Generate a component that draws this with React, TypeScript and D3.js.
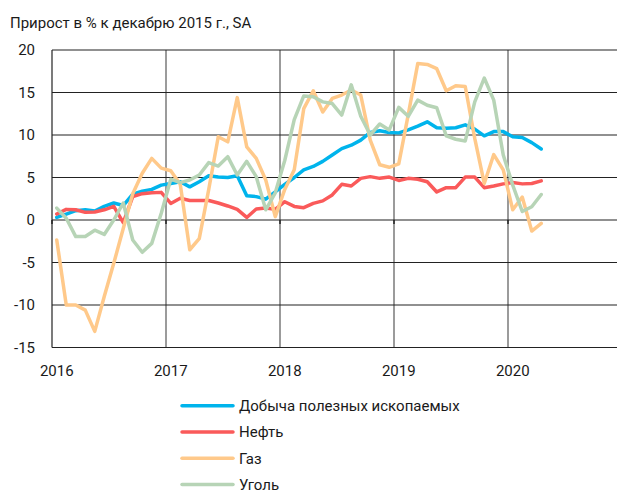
import React from 'react';
import * as d3 from 'd3';

// monthly values, Jan 2016 .. Apr 2020, growth in % vs Dec 2015 (SA)
const mining = [
  0.3, 0.7, 1.1, 1.2, 1.05, 1.6, 2.0, 1.7, 3.05, 3.4, 3.6, 4.1,
  4.3, 4.5, 3.9, 4.5, 5.2, 5.05, 5.0, 5.2, 2.85, 2.75, 2.45, 3.3,
  4.2, 5.0, 5.9, 6.3, 6.9, 7.65, 8.4, 8.8, 9.4, 10.3, 10.5, 10.3,
  10.25, 10.6, 11.05, 11.55, 10.85, 10.8, 10.85, 11.2, 10.7, 9.9, 10.4, 10.4,
  9.8, 9.7, 9.1, 8.35
];
const oil = [
  0.7, 1.25, 1.2, 0.9, 0.95, 1.2, 1.6, -0.3, 2.75, 3.1, 3.2, 3.25,
  1.95, 2.55, 2.3, 2.3, 2.3, 2.0, 1.65, 1.25, 0.3, 1.3, 1.4, 1.25,
  2.15, 1.6, 1.45, 1.95, 2.25, 2.95, 4.2, 4.0, 4.9, 5.1, 4.9, 5.05,
  4.65, 4.9, 4.8, 4.5, 3.3, 3.8, 3.8, 5.05, 5.05, 3.8, 4.0, 4.25,
  4.4, 4.25, 4.3, 4.6
];
const gas = [
  -2.35, -10.0, -10.0, -10.6, -13.1, -9.0, -5.1, -1.0, 3.1, 5.5, 7.25, 6.1,
  5.8, 4.2, -3.5, -2.2, 3.6, 9.8, 9.2, 14.4, 8.6, 7.25, 4.7, 0.4,
  3.6, 5.9, 13.1, 15.2, 12.7, 14.3, 14.7, 15.3, 14.7, 9.4, 6.5, 6.2,
  6.6, 12.4, 18.4, 18.3, 17.8, 15.2, 15.8, 15.7, 9.6, 4.3, 7.7, 5.9,
  1.2, 2.7, -1.3, -0.4
];
const coal = [
  1.4, 0.2, -1.95, -1.95, -1.2, -1.7, 0.0, 2.0, -2.35, -3.8, -2.75, 0.8,
  4.8, 4.4, 4.7, 5.3, 6.75, 6.35, 7.45, 5.3, 6.9, 5.1, 1.2, 3.2,
  7.0, 11.8, 14.6, 14.5, 13.9, 13.7, 12.35, 15.9, 12.2, 10.0, 11.3, 10.6,
  13.25, 12.2, 14.1, 13.5, 13.2, 9.9, 9.5, 9.3, 13.9, 16.7, 14.1, 7.65,
  4.1, 1.0, 1.56, 3.0
];

const years = ['2016', '2017', '2018', '2019', '2020'];
const yTicks = [-15, -10, -5, 0, 5, 10, 15, 20];

const seriesNames = ['Добыча полезных ископаемых', 'Нефть', 'Газ', 'Уголь'];
const seriesColors = ['#00b4ec', '#fa5a5a', '#ffc98a', '#b7d4b6'];
const seriesData = [mining, oil, gas, coal];

const title = 'Прирост в % к декабрю 2015 г., SA';
const font = 'Roboto, sans-serif';

export default function App() {
  const x = d3.scaleLinear().domain([0, 60]).range([52, 622]);
  const y = d3.scaleLinear().domain([-15, 20]).range([347.5, 50]);

  const line = d3.line<number>()
    .x((_, i) => x(i + 0.5))
    .y(d => y(d));

  return (
    <svg width={617} height={492} style={{ position: 'absolute', left: 0, top: 0, background: '#fff' }}>
      <text x={10} y={28} fontFamily={font} fontSize={15} fill="#1a1a1a">{title}</text>

      {/* vertical year grid */}
      {years.slice(1).map((yr, k) => (
        <line key={yr} x1={x((k + 1) * 12)} x2={x((k + 1) * 12)} y1={y(20)} y2={y(-15)}
          stroke="#7a7a7a" strokeWidth={1.5} />
      ))}

      {/* horizontal grid */}
      {yTicks.map(t => (
        <line key={t} x1={x(0)} x2={617} y1={y(t)} y2={y(t)} stroke="#222" strokeWidth={1.2} />
      ))}
      <line x1={x(0)} x2={x(0)} y1={y(20)} y2={y(-15)} stroke="#222" strokeWidth={1.2} />
      {years.map((yr, k) => (
        <line key={'t' + yr} x1={x(k * 12)} x2={x(k * 12)} y1={y(0)} y2={y(0) + 4} stroke="#222" strokeWidth={1.5} />
      ))}

      {yTicks.map(t => (
        <text key={'l' + t} x={35} y={y(t)} dy="0.36em" textAnchor="end" fontFamily={font} fontSize={15} fill="#1a1a1a">
          {t}
        </text>
      ))}
      {years.map((yr, k) => (
        <text key={'x' + yr} x={x(k * 12 + 0.5)} y={376} textAnchor="middle" fontFamily={font} fontSize={15} fill="#1a1a1a">
          {yr}
        </text>
      ))}

      {seriesData.map((s, j) => (
        <path key={seriesNames[j]} d={line(s) || ''} fill="none" stroke={seriesColors[j]}
          strokeWidth={3.5} strokeLinejoin="round" strokeLinecap="round" />
      ))}

      {seriesNames.map((name, j) => (
        <g key={'lg' + j} transform={`translate(0,${405.7 + j * 26.3})`}>
          <line x1={182} x2={233} y1={0} y2={0} stroke={seriesColors[j]} strokeWidth={3.5} strokeLinecap="round" />
          <text x={239} y={0} dy="0.36em" fontFamily={font} fontSize={15} fill="#1a1a1a">{name}</text>
        </g>
      ))}
    </svg>
  );
}
